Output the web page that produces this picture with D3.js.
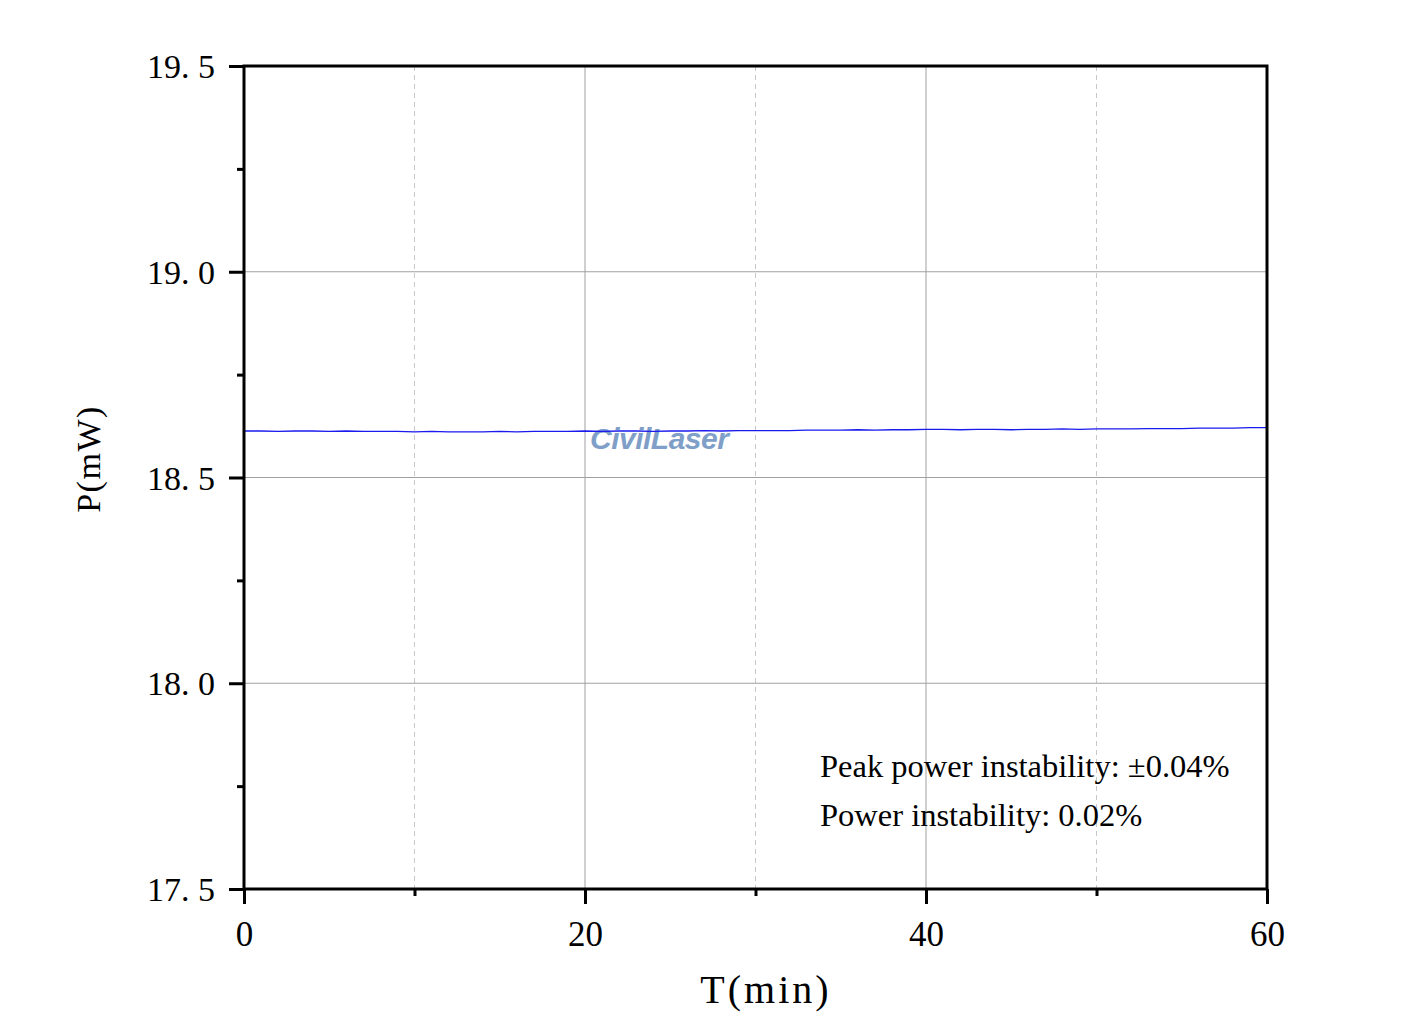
<!DOCTYPE html>
<html><head><meta charset="utf-8">
<script src="https://cdn.jsdelivr.net/npm/d3@7"></script>
<style>body{margin:0;background:#fff}svg{display:block}</style>
</head><body>
<script>
// Data
const timeMin = d3.range(0, 61, 1);
const powerMW = [18.613,18.613,18.612,18.613,18.613,18.612,18.613,18.612,18.612,18.612,
  18.611,18.612,18.611,18.611,18.611,18.612,18.611,18.612,18.612,18.612,
  18.613,18.612,18.613,18.613,18.612,18.613,18.613,18.614,18.613,18.614,
  18.614,18.614,18.614,18.615,18.615,18.615,18.616,18.615,18.616,18.616,
  18.617,18.617,18.616,18.617,18.617,18.616,18.617,18.617,18.618,18.617,
  18.618,18.618,18.618,18.619,18.619,18.619,18.620,18.620,18.620,18.621,18.621];
const xTicks = [0, 20, 40, 60];
const xMinor = [10, 30, 50];
const yTicks = [17.5, 18.0, 18.5, 19.0, 19.5];
const yMinor = [17.75, 18.25, 18.75, 19.25];
const notes = ["Peak power instability: \u00B10.04%", "Power instability: 0.02%"];

const W = 1415, H = 1025;
const L = 244, R = 1267, T = 66, B = 889;
const svg = d3.select("body").append("svg").attr("width", W).attr("height", H);
const x = d3.scaleLinear().domain([0, 60]).range([L, R]);
const y = d3.scaleLinear().domain([17.5, 19.5]).range([B, T]);

// grid
svg.append("g").selectAll("line").data(xMinor).join("line")
  .attr("x1", d => x(d)).attr("x2", d => x(d)).attr("y1", T).attr("y2", B)
  .attr("stroke", "#c8c8c8").attr("stroke-width", 1).attr("stroke-dasharray", "5,4");
svg.append("g").selectAll("line").data(xTicks.slice(1, -1)).join("line")
  .attr("x1", d => x(d)).attr("x2", d => x(d)).attr("y1", T).attr("y2", B)
  .attr("stroke", "#a0a0a0").attr("stroke-width", 1);
svg.append("g").selectAll("line").data(yTicks.slice(1, -1)).join("line")
  .attr("y1", d => y(d)).attr("y2", d => y(d)).attr("x1", L).attr("x2", R)
  .attr("stroke", "#a0a0a0").attr("stroke-width", 1);

// watermark
svg.append("text").attr("x", 590).attr("y", 449)
  .attr("font-family", "Liberation Sans, Arial, sans-serif").attr("font-weight", "bold")
  .attr("font-style", "italic").attr("font-size", 30).attr("fill", "#7f9fc9")
  .attr("letter-spacing", -0.5).text("CivilLaser");

// line
svg.append("path").datum(timeMin.map((t, i) => [t, powerMW[i]]))
  .attr("fill", "none").attr("stroke", "#1a1aee").attr("stroke-width", 1.3)
  .attr("d", d3.line().x(d => x(d[0])).y(d => y(d[1])));

// frame
svg.append("rect").attr("x", L).attr("y", T).attr("width", R - L).attr("height", B - T)
  .attr("fill", "none").attr("stroke", "#000").attr("stroke-width", 3);

// y axis
const yAx = svg.append("g").attr("transform", `translate(${L},0)`)
  .call(d3.axisLeft(y).tickValues(yTicks).tickSize(15).tickSizeOuter(0)
    .tickFormat(d => d3.format(".1f")(d).replace(".", ". ")));
yAx.select(".domain").remove();
yAx.selectAll(".tick line").attr("stroke-width", 3);
yAx.selectAll("text").attr("font-family", "Liberation Serif, serif").attr("font-size", 34)
  .attr("fill", "#000").attr("x", -29).attr("dy", "0.34em").attr("xml:space", "preserve");
const yMi = svg.append("g").attr("transform", `translate(${L},0)`)
  .call(d3.axisLeft(y).tickValues(yMinor).tickSize(7).tickFormat(""));
yMi.select(".domain").remove();
yMi.selectAll(".tick line").attr("stroke-width", 3);

// x axis
const xAx = svg.append("g").attr("transform", `translate(0,${B})`)
  .call(d3.axisBottom(x).tickValues(xTicks).tickSize(15).tickSizeOuter(0));
xAx.select(".domain").remove();
xAx.selectAll(".tick line").attr("stroke-width", 3);
xAx.selectAll("text").attr("font-family", "Liberation Serif, serif").attr("font-size", 35)
  .attr("fill", "#000").attr("y", 32).attr("dy", "0.71em");
const xMi = svg.append("g").attr("transform", `translate(0,${B})`)
  .call(d3.axisBottom(x).tickValues(xMinor).tickSize(7).tickFormat(""));
xMi.select(".domain").remove();
xMi.selectAll(".tick line").attr("stroke-width", 3);

// axis titles
svg.append("text").attr("x", 766).attr("y", 1003).attr("text-anchor", "middle")
  .attr("font-family", "Liberation Serif, serif").attr("font-size", 40)
  .attr("letter-spacing", 3).text("T(min)");
svg.append("text").attr("transform", "translate(100,459) rotate(-90)").attr("text-anchor", "middle")
  .attr("font-family", "Liberation Serif, serif").attr("font-size", 34)
  .attr("letter-spacing", 1.5).text("P(mW)");

// notes
svg.append("g").selectAll("text").data(notes).join("text")
  .attr("x", 820).attr("y", (d, i) => 777 + i * 49)
  .attr("font-family", "Liberation Serif, serif").attr("font-size", 32.5).attr("fill", "#000")
  .text(d => d);
</script>
</body></html>
